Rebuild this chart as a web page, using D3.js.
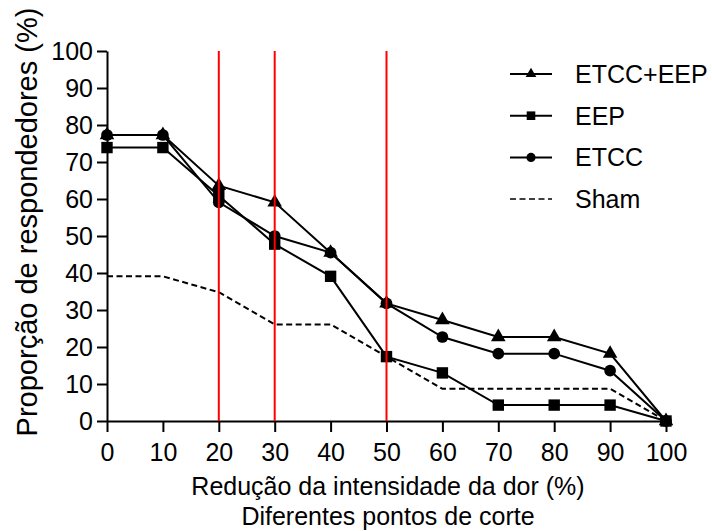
<!DOCTYPE html>
<html>
<head>
<meta charset="utf-8">
<script src="https://cdn.jsdelivr.net/npm/d3@7"></script>
<style>
  html, body { margin: 0; padding: 0; background: #fff; }
  svg { display: block; font-family: "Liberation Sans", Arial, Helvetica, sans-serif; }
</style>
</head>
<body>
<svg id="chart" width="712" height="531"></svg>
<script>
// ─── Data ────────────────────────────────────────────────────
const cutPoints = [0, 10, 20, 30, 40, 50, 60, 70, 80, 90, 100];
const etccEep = [77.3, 77.3, 63.6, 59.1, 45.5, 31.8, 27.3, 22.7, 22.7, 18.2, 0];
const eep     = [73.9, 73.9, 60.9, 47.8, 39.1, 17.4, 13.0, 4.3, 4.3, 4.3, 0];
const etcc    = [77.3, 77.3, 59.1, 50.0, 45.5, 31.8, 22.7, 18.2, 18.2, 13.6, 0];
const sham    = [39.1, 39.1, 34.8, 26.1, 26.1, 17.4, 8.7, 8.7, 8.7, 8.7, 0];
const redLines = [20, 30, 50];
const yTicks = [0, 10, 20, 30, 40, 50, 60, 70, 80, 90, 100];

(() => {
  const svg = d3.select("#chart");

  // ─── Scales ──────────────────────────────────────────────────
  const x = d3.scaleLinear().domain([0, 100]).range([107, 666]);
  const y = d3.scaleLinear().domain([0, 100]).range([421, 51]);

  const series = [
    { name: "ETCC+EEP", values: etccEep, symbol: d3.symbolTriangle, size: 92, legendSize: 50, dash: null },
    { name: "EEP", values: eep, symbol: d3.symbolSquare, size: 130, legendSize: 74, dash: null },
    { name: "ETCC", values: etcc, symbol: d3.symbolCircle, size: 108, legendSize: 66, dash: null },
    { name: "Sham", values: sham, symbol: null, dash: "6,3.5" }
  ];

  // ─── Axes ────────────────────────────────────────────────────
  const xAxis = svg.append("g")
    .attr("transform", `translate(0,${y(0)})`)
    .call(d3.axisBottom(x).tickValues(cutPoints).tickSize(11).tickPadding(11).tickSizeOuter(0));

  const yAxis = svg.append("g")
    .attr("transform", `translate(${x(0)},0)`)
    .call(d3.axisLeft(y).tickValues(yTicks).tickSize(10).tickPadding(4).tickSizeOuter(0));

  [xAxis, yAxis].forEach((g) => {
    g.select(".domain").attr("stroke", "#000").attr("stroke-width", 2);
    g.selectAll(".tick line").attr("stroke", "#000").attr("stroke-width", 2);
    g.selectAll(".tick text")
      .attr("fill", "#000")
      .style("font-size", "25px")
      .style("font-family", "\"Liberation Sans\", Arial, Helvetica, sans-serif");
  });

  // ─── Lines ───────────────────────────────────────────────────
  const line = d3.line()
    .x((d, i) => x(cutPoints[i]))
    .y((d) => y(d));

  series.forEach((s) => {
    svg.append("path")
      .datum(s.values)
      .attr("fill", "none")
      .attr("stroke", "#000")
      .attr("stroke-width", 2)
      .attr("stroke-dasharray", s.dash)
      .attr("d", line);
  });

  // ─── Markers ─────────────────────────────────────────────────
  series.filter((s) => s.symbol).forEach((s) => {
    svg.append("g")
      .selectAll("path")
      .data(s.values)
      .join("path")
      .attr("transform", (d, i) => `translate(${x(cutPoints[i])},${y(d)})`)
      .attr("d", d3.symbol().type(s.symbol).size(s.size))
      .attr("fill", "#000");
  });

  // ─── Red cut-off lines ───────────────────────────────────────
  svg.append("g")
    .selectAll("line")
    .data(redLines)
    .join("line")
    .attr("x1", (d) => x(d)).attr("x2", (d) => x(d))
    .attr("y1", y(0)).attr("y2", y(100))
    .attr("stroke", "#ff0000")
    .attr("stroke-width", 2);

  // ─── Axis titles ─────────────────────────────────────────────
  svg.append("text")
    .attr("transform", "translate(37,222) rotate(-90)")
    .attr("text-anchor", "middle")
    .style("font-size", "29px")
    .text("Proporção de respondedores (%)");

  svg.append("text")
    .attr("x", 388).attr("y", 495)
    .attr("text-anchor", "middle")
    .style("font-size", "25px")
    .text("Redução da intensidade da dor (%)");

  svg.append("text")
    .attr("x", 388).attr("y", 525)
    .attr("text-anchor", "middle")
    .style("font-size", "25px")
    .text("Diferentes pontos de corte");

  // ─── Legend ──────────────────────────────────────────────────
  const legend = svg.append("g")
    .selectAll("g")
    .data(series)
    .join("g")
    .attr("transform", (d, i) => `translate(510,${74 + i * 41.7})`);

  legend.append("line")
    .attr("x1", 0).attr("x2", 42)
    .attr("stroke", "#000")
    .attr("stroke-width", (d) => d.dash ? 1.5 : 2)
    .attr("stroke-dasharray", (d) => d.dash);

  legend.filter((d) => d.symbol)
    .append("path")
    .attr("transform", "translate(21,0)")
    .attr("d", (d) => d3.symbol().type(d.symbol).size(d.legendSize)())
    .attr("fill", "#000");

  legend.append("text")
    .attr("x", 65).attr("y", 9)
    .style("font-size", "25px")
    .text((d) => d.name);
})();
</script>
</body>
</html>
